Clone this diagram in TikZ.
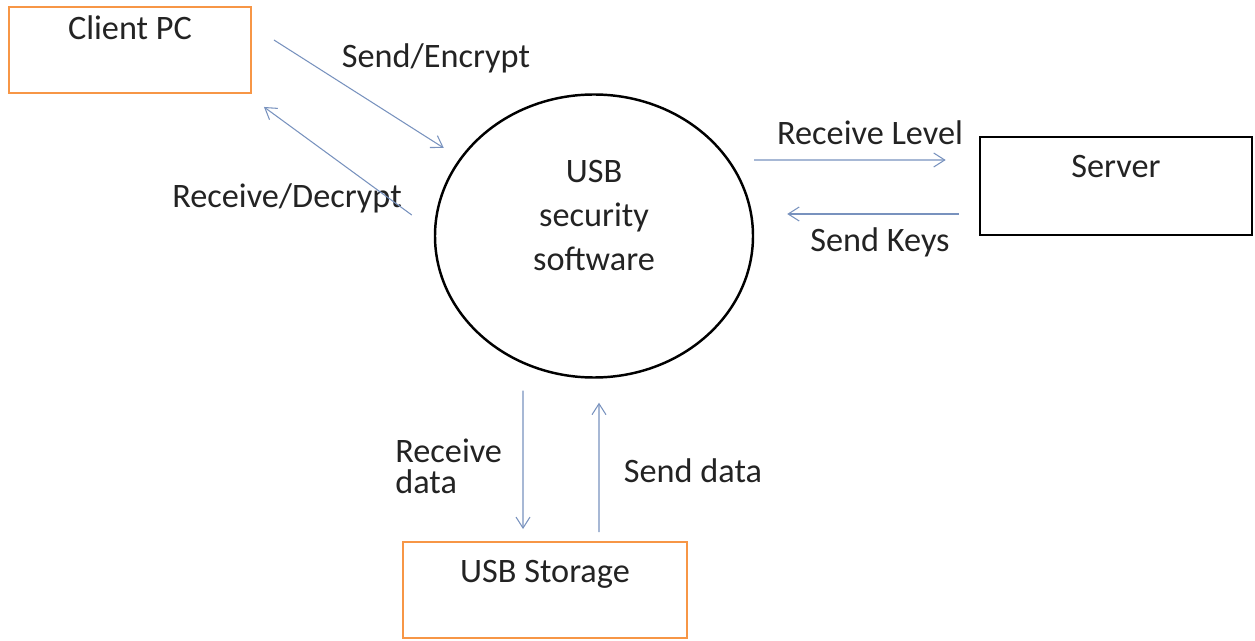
\documentclass[tikz,border=0pt]{standalone}
\usepackage{fontspec}
\setmainfont{Carlito}
\usetikzlibrary{shapes.geometric, arrows.meta, positioning}
\definecolor{flowblue}{RGB}{120,146,190}
\definecolor{boxorange}{RGB}{247,150,70}
\definecolor{inkgray}{RGB}{35,35,35}
\tikzstyle{device} = [rectangle, inner sep=0pt, minimum width=4.84cm, text centered, draw=boxorange, line width=1.1pt]
\tikzstyle{remote} = [rectangle, inner sep=0pt, minimum width=5.44cm, text centered, draw=black, line width=1.5pt]
\tikzstyle{software} = [ellipse, minimum width=6.36cm, minimum height=5.66cm, align=center, draw=black, line width=1.4pt, font=\fontsize{19.5}{25}\selectfont]
\tikzstyle{arrow} = [draw=flowblue, line width=0.6pt, -{Straight Barb[length=2.2mm, width=2.8mm]}]
\tikzstyle{flowlabel} = [anchor=base, inner sep=0pt]

\begin{document}
\begin{tikzpicture}[font=\fontsize{19.5}{17.6}\selectfont, text=inkgray]
        \useasboundingbox (0,0) rectangle (25.1,-12.82);
        \node (sw) [software, text depth=0.84cm] at (11.88,-4.72) {USB\\security\\software};
        \node (client) [device, text height=0.66cm, text depth=1.06cm] at (2.6,-1.0) {Client PC};
        \node (server) [remote, text height=0.82cm, text depth=1.14cm] at (22.32,-3.72) {Server};
        \node (storage) [device, minimum width=5.68cm, text height=0.8cm, text depth=1.12cm] at (10.9,-11.8) {USB Storage};

        \node (encrypt) [flowlabel] at (8.72,-1.36) {Send/Encrypt};
        \node (decrypt) [flowlabel] at (5.74,-4.16) {Receive/Decrypt};
        \node (level) [flowlabel] at (17.4,-2.9) {Receive Level};
        \node (keys) [flowlabel] at (17.6,-5.04) {Send Keys};
        \node (getdata) [flowlabel, anchor=base west, align=left] at (7.9,-9.86) {Receive\\data};
        \node (putdata) [flowlabel] at (13.86,-9.66) {Send data};

        \draw [arrow] ([xshift=0.44cm, yshift=0.2cm]client.east) -- ([xshift=0.2cm, yshift=1.76cm]sw.west);
        \draw [arrow] ([xshift=-0.44cm, yshift=0.42cm]sw.west) -- ([xshift=0.24cm, yshift=-0.26cm]client.south east);
        \draw [arrow] ([yshift=1.52cm]sw.east) -- ([xshift=-0.66cm, yshift=0.52cm]server.west);
        \draw [arrow] ([xshift=-0.4cm, yshift=-0.56cm]server.west) -- ([xshift=0.66cm, yshift=0.44cm]sw.east);
        \draw [arrow] ([xshift=-1.42cm, yshift=-0.24cm]sw.south) -- ([xshift=-0.44cm, yshift=0.24cm]storage.north);
        \draw [arrow] ([xshift=1.08cm, yshift=0.18cm]storage.north) -- ([xshift=0.1cm, yshift=-0.48cm]sw.south);
    \end{tikzpicture}
\end{document}
